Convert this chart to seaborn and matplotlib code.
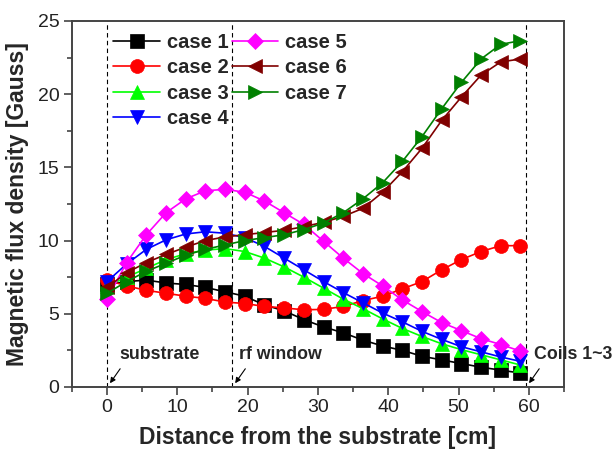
import matplotlib
matplotlib.use("Agg")
import matplotlib.pyplot as plt
import seaborn as sns
import pandas as pd

distance = [0.0, 2.8, 5.6, 8.4, 11.2, 14.0, 16.8, 19.6, 22.4, 25.2, 28.0,
            30.8, 33.6, 36.4, 39.2, 42.0, 44.8, 47.6, 50.4, 53.2, 56.0, 58.8]

case1 = [7.0, 7.2, 7.3, 7.1, 7.0, 6.8, 6.5, 6.2, 5.6, 5.2, 4.6,
         4.1, 3.7, 3.2, 2.8, 2.5, 2.1, 1.85, 1.6, 1.35, 1.15, 0.95]
case2 = [7.3, 6.9, 6.6, 6.4, 6.2, 6.05, 5.8, 5.7, 5.5, 5.4, 5.27,
         5.3, 5.5, 5.9, 6.2, 6.7, 7.2, 8.0, 8.7, 9.25, 9.65, 9.65]
case3 = [6.9, 7.5, 8.1, 8.7, 9.1, 9.35, 9.45, 9.25, 8.8, 8.2, 7.5,
         6.75, 6.0, 5.35, 4.65, 4.0, 3.45, 2.95, 2.55, 2.2, 1.85, 1.5]
case4 = [7.2, 8.4, 9.4, 10.05, 10.45, 10.6, 10.5, 10.2, 9.6, 8.8, 8.0,
         7.2, 6.45, 5.75, 5.05, 4.45, 3.8, 3.25, 2.75, 2.4, 2.05, 1.75]
case5 = [6.0, 8.5, 10.4, 11.9, 12.85, 13.4, 13.5, 13.3, 12.7, 11.9, 11.1,
         9.95, 8.8, 7.75, 6.9, 5.95, 5.15, 4.4, 3.85, 3.3, 2.9, 2.45]
case6 = [6.8, 7.8, 8.5, 9.05, 9.55, 10.0, 10.25, 10.4, 10.55, 10.7, 10.95,
         11.25, 11.65, 12.2, 13.3, 14.7, 16.3, 18.2, 19.8, 21.3, 22.2, 22.4]
case7 = [6.4, 7.2, 7.9, 8.45, 9.0, 9.4, 9.7, 10.0, 10.2, 10.4, 10.75,
         11.2, 11.9, 12.85, 13.95, 15.4, 17.1, 19.0, 20.8, 22.4, 23.4, 23.65]

labels = ["case 1", "case 2", "case 3", "case 4", "case 5", "case 6", "case 7"]
series = [case1, case2, case3, case4, case5, case6, case7]
colors = ["#000000", "#ff0000", "#00ff00", "#0000ff", "#ff00ff", "#800000", "#008000"]
markers = ["s", "o", "^", "v", "D", "<", ">"]
msizes = [9.5, 10, 10.5, 10.5, 8.5, 10.5, 10.5]

# reference positions (substrate, rf window, coils)
ref_x = [0.0, 17.8, 59.6]
ref_text = ["substrate", "rf window", "Coils 1~3"]
ref_text_x = [1.8, 18.8, 60.75]

sns.set_theme(style="ticks")
plt.rcParams["font.family"] = ["Liberation Sans", "DejaVu Sans"]

fig = plt.figure(figsize=(6.14, 4.55), dpi=100)
ax = fig.add_axes([0.117, 0.1495, 0.8016, 0.8045])

df = pd.DataFrame({"distance": distance})
for lab, ys, c, m, ms in zip(labels, series, colors, markers, msizes):
    df[lab] = ys
    sns.lineplot(data=df, x="distance", y=lab, ax=ax, color=c, marker=m,
                 markersize=ms, markeredgecolor=c, markeredgewidth=0.5,
                 linewidth=1.2, label=lab)

for xv, t, tx in zip(ref_x, ref_text, ref_text_x):
    ax.axvline(xv, color="black", linewidth=0.8, linestyle=(0, (4, 3)), zorder=0)
    ax.annotate("", xy=(xv + 0.2, 0.1), xytext=(xv + 2.1, 1.4),
                arrowprops=dict(arrowstyle="-|>", color="black", lw=0.8,
                                mutation_scale=8))
    ax.text(tx, 2.25, t, fontsize=12.8, fontweight="bold",
            ha="left", va="center", clip_on=False)

ax.set_xlim(-5, 65)
ax.set_ylim(0, 25)
ax.set_xticks([0, 10, 20, 30, 40, 50, 60])
ax.set_xticks([-5, 5, 15, 25, 35, 45, 55, 65], minor=True)
ax.set_yticks([0, 5, 10, 15, 20, 25])
ax.set_yticks([2.5, 7.5, 12.5, 17.5, 22.5], minor=True)
ax.tick_params(axis="both", which="major", direction="out", length=6, width=1.2,
               labelsize=14, color="#444444", labelcolor="#222222", pad=3)
ax.tick_params(axis="both", which="minor", direction="out", length=3.5, width=1.2,
               color="#444444")
for s in ax.spines.values():
    s.set_visible(True)
    s.set_linewidth(1.4)
    s.set_color("#444444")

ax.set_xlabel("Distance from the substrate [cm]", fontsize=16.5, fontweight="bold",
              labelpad=7)
ax.set_ylabel("Magnetic flux density [Gauss]", fontsize=16.5, fontweight="bold",
              labelpad=6)

leg = ax.legend(ncol=2, loc="upper left", bbox_to_anchor=(0.06, 1.0), frameon=False,
                prop={"weight": "bold", "size": 14.5}, handlelength=2.3,
                handletextpad=0.35, columnspacing=0.15, labelspacing=0.32,
                borderaxespad=0.2)

fig.savefig("out.png", dpi=100)
